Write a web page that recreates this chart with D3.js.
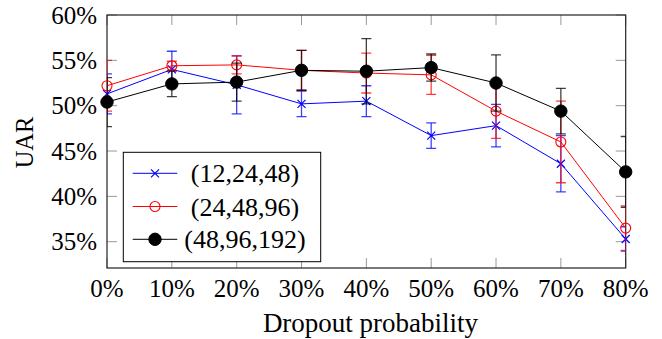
<!DOCTYPE html>
<html>
<head>
<meta charset="utf-8">
<script src="https://cdn.jsdelivr.net/npm/d3@7"></script>
<style>
  body { margin: 0; background: #fff; }
  svg text { font-family: "Liberation Serif", "Times New Roman", Times, serif; fill: #000; }
</style>
</head>
<body>
<script>
"use strict";

// dropout probability (%)
const probs = [0, 10, 20, 30, 40, 50, 60, 70, 80];

// UAR (%) and error (+/-) per network size
const uarSmall = [51.3, 54.0, 52.3, 50.2, 50.5, 46.7, 47.8, 43.6, 35.3];
const errSmall = [2.2, 2.0, 3.2, 1.4, 1.7, 1.4, 2.35, 3.1, 1.35];
const uarMid = [52.2, 54.4, 54.5, 53.9, 53.6, 53.4, 49.4, 46.0, 36.5];
const errMid = [2.8, 0.5, 1.0, 2.2, 2.2, 2.15, 3.0, 4.5, 2.45];
const uarBig = [50.4, 52.4, 52.6, 53.9, 53.8, 54.2, 52.5, 49.4, 42.7];
const errBig = [2.7, 1.4, 2.1, 2.2, 3.6, 1.5, 3.1, 2.5, 3.9];

const seriesNames = ["(12,24,48)", "(24,48,96)", "(48,96,192)"];
const yTicks = [35, 40, 45, 50, 55, 60];

const W = 662, H = 339;
const pLeft = 107, pRight = 625.7, pTop = 15, pBottom = 268;

let x = d3.scaleLinear().domain([0, 80]).range([pLeft, pRight]);
let y = d3.scaleLinear().domain([32.1, 60]).range([pBottom, pTop]);

let svg = d3.select("body")
    .append("svg")
    .attr("width", W)
    .attr("height", H);

svg.append("defs")
    .append("clipPath")
    .attr("id", "plotclip")
    .append("rect")
    .attr("x", pLeft).attr("y", pTop)
    .attr("width", pRight - pLeft).attr("height", pBottom - pTop);

// ticks inside the box on all four sides
let tickG = svg.append("g").attr("stroke", "#999").attr("stroke-width", 1);
probs.forEach(function(p){
    tickG.append("line").attr("x1", x(p)).attr("x2", x(p)).attr("y1", pBottom).attr("y2", pBottom - 10);
    tickG.append("line").attr("x1", x(p)).attr("x2", x(p)).attr("y1", pTop).attr("y2", pTop + 10);
});
yTicks.forEach(function(t){
    tickG.append("line").attr("x1", pLeft).attr("x2", pLeft + 10).attr("y1", y(t)).attr("y2", y(t));
    tickG.append("line").attr("x1", pRight).attr("x2", pRight - 10).attr("y1", y(t)).attr("y2", y(t));
});

svg.append("rect")
    .attr("x", pLeft).attr("y", pTop)
    .attr("width", pRight - pLeft).attr("height", pBottom - pTop)
    .attr("fill", "none")
    .attr("stroke", "#222")
    .attr("stroke-width", 1.2);

// tick labels
svg.append("g").selectAll("text")
    .data(probs)
    .enter()
    .append("text")
    .attr("x", function(d){ return x(d); })
    .attr("y", 296.5)
    .attr("text-anchor", "middle")
    .style("font-size", "25px")
    .text(function(d){ return d + "%"; });

svg.append("g").selectAll("text")
    .data(yTicks)
    .enter()
    .append("text")
    .attr("x", 97)
    .attr("y", function(d){ return y(d); })
    .attr("dy", "0.35em")
    .attr("text-anchor", "end")
    .style("font-size", "25px")
    .text(function(d){ return d + "%"; });

svg.append("text")
    .attr("x", 370.5)
    .attr("y", 331.5)
    .attr("text-anchor", "middle")
    .style("font-size", "27px")
    .text("Dropout probability");

svg.append("text")
    .attr("transform", "translate(33,142.5) rotate(-90)")
    .attr("text-anchor", "middle")
    .style("font-size", "24.5px")
    .text("UAR");

function drawMarker(g, kind, cx, cy, color){
    if(kind === "cross"){
        g.append("path")
            .attr("d", "M" + (cx - 4) + "," + (cy - 4) + "L" + (cx + 4) + "," + (cy + 4) +
                       "M" + (cx - 4) + "," + (cy + 4) + "L" + (cx + 4) + "," + (cy - 4))
            .attr("stroke", color).attr("stroke-width", 1.2).attr("fill", "none");
    } else if(kind === "open"){
        g.append("circle").attr("cx", cx).attr("cy", cy).attr("r", 5)
            .attr("fill", "none").attr("stroke", color).attr("stroke-width", 1.1);
    } else {
        g.append("circle").attr("cx", cx).attr("cy", cy).attr("r", 6.2)
            .attr("fill", color).attr("stroke", color);
    }
}

function drawSeries(vals, errs, color, kind){
    let clipped = svg.append("g").attr("clip-path", "url(#plotclip)");

    let eb = clipped.append("g")
        .attr("stroke", color)
        .attr("stroke-width", 1.3)
        .attr("stroke-opacity", 0.75);
    probs.forEach(function(p, i){
        let lo = y(vals[i] - errs[i]), hi = y(vals[i] + errs[i]);
        eb.append("line").attr("x1", x(p)).attr("x2", x(p)).attr("y1", lo).attr("y2", hi);
        eb.append("line").attr("x1", x(p) - 5).attr("x2", x(p) + 5).attr("y1", lo).attr("y2", lo);
        eb.append("line").attr("x1", x(p) - 5).attr("x2", x(p) + 5).attr("y1", hi).attr("y2", hi);
    });

    let line = d3.line()
        .x(function(d, i){ return x(probs[i]); })
        .y(function(d){ return y(d); });
    clipped.append("path")
        .datum(vals)
        .attr("d", line)
        .attr("fill", "none")
        .attr("stroke", color)
        .attr("stroke-width", 1);

    let mg = svg.append("g");
    probs.forEach(function(p, i){
        drawMarker(mg, kind, x(p), y(vals[i]), color);
    });
}

drawSeries(uarSmall, errSmall, "#0000ff", "cross");
drawSeries(uarMid, errMid, "#ff0000", "open");
drawSeries(uarBig, errBig, "#000000", "dot");

// legend
let legend = svg.append("g");
legend.append("rect")
    .attr("x", 123.3).attr("y", 152.3)
    .attr("width", 197.4).attr("height", 109.4)
    .attr("fill", "#fff")
    .attr("stroke", "#000")
    .attr("stroke-width", 1);

const legendColors = ["#0000ff", "#ff0000", "#000000"];
const legendKinds = ["cross", "open", "dot"];
const legendY = [173.3, 206.5, 239.3];
seriesNames.forEach(function(name, i){
    legend.append("line")
        .attr("x1", 132.7).attr("x2", 177.3)
        .attr("y1", legendY[i]).attr("y2", legendY[i])
        .attr("stroke", legendColors[i]).attr("stroke-width", 1);
    drawMarker(legend, legendKinds[i], 155, legendY[i], legendColors[i]);
    legend.append("text")
        .attr("x", 245)
        .attr("y", legendY[i])
        .attr("dy", "0.35em")
        .attr("text-anchor", "middle")
        .style("font-size", "26px")
        .text(name);
});
</script>
</body>
</html>
